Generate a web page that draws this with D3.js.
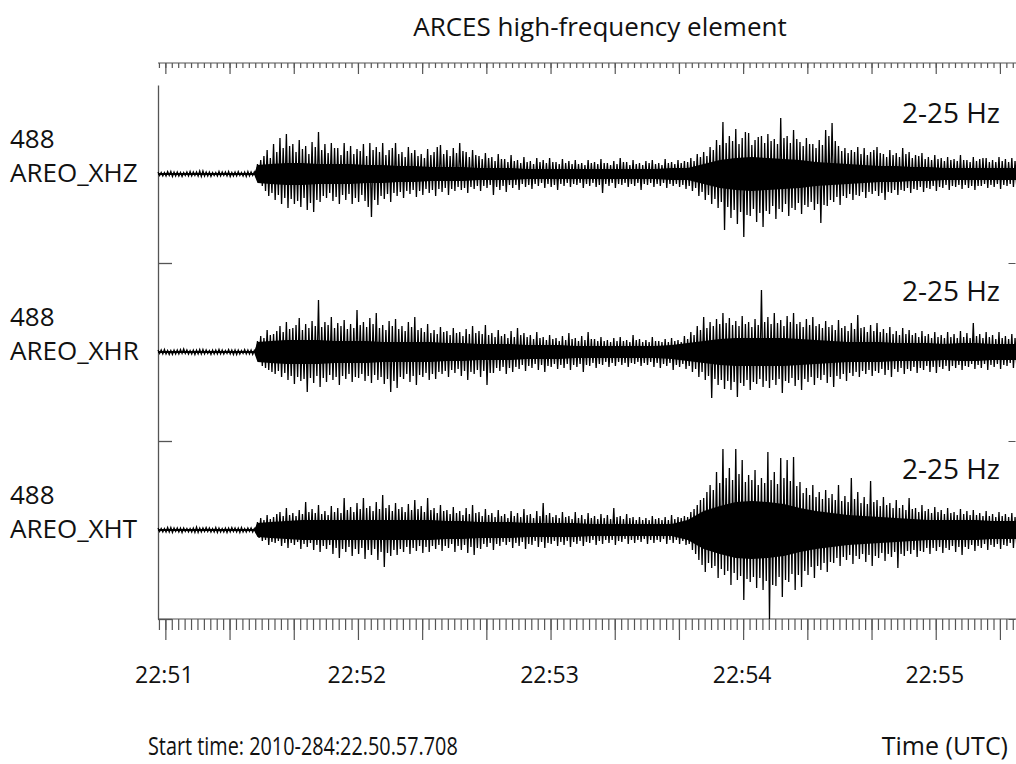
<!DOCTYPE html>
<html>
<head>
<meta charset="utf-8">
<script src="https://cdn.jsdelivr.net/npm/d3@7"></script>
<style>
  html, body { margin: 0; padding: 0; background: #fff; }
  svg { display: block; font-family: "Open Sans", "Noto Sans", sans-serif; }
</style>
</head>
<body>
<main></main>
<script>
// trace labels
const stations = ["488", "488", "488"];
const channels = ["AREO_XHZ", "AREO_XHR", "AREO_XHT"];
const filterLabels = ["2-25 Hz", "2-25 Hz", "2-25 Hz"];

// peak amplitudes (relative units), one per second from start time, up and down
const xhzUp = [
    2, 1.5, 1.5, 2.5, 2.5, 2, 2, 1.5, 1.5, 2,
    2.5, 2, 2, 3, 3, 2, 2, 1.5, 1.5, 2.5,
    2, 2, 2.5, 1.5, 2, 2.5, 1.5, 2, 2.5, 2,
    2, 10, 14, 18, 24, 16, 30, 22, 36, 26,
    40, 28, 30, 22, 34, 25, 28, 20, 32, 27,
    42, 24, 30, 21, 31, 26, 26, 19, 31, 23,
    28, 20, 25, 23, 30, 18, 31, 24, 27, 22,
    31, 19, 24, 26, 31, 20, 22, 17, 27, 21,
    24, 18, 20, 16, 25, 19, 22, 27, 29, 20,
    24, 18, 26, 21, 31, 23, 22, 17, 24, 19,
    18, 15, 21, 16, 17, 13, 20, 15, 15, 12,
    19, 13, 14, 11, 17, 12, 13, 10, 16, 12,
    14, 11, 16, 12, 12, 10, 15, 11, 13, 10,
    14, 10, 11, 9, 14, 11, 12, 10, 15, 11,
    11, 9, 13, 10, 16, 12, 12, 9, 14, 10,
    11, 9, 13, 11, 14, 10, 11, 9, 15, 11,
    12, 10, 14, 11, 13, 12, 16, 13, 20, 17,
    22, 18, 27, 24, 34, 29, 52, 31, 38, 33,
    45, 30, 36, 42, 41, 29, 34, 37, 38, 31,
    40, 33, 35, 30, 56, 36, 38, 31, 44, 35,
    32, 28, 36, 30, 30, 26, 34, 29, 44, 38,
    51, 33, 28, 23, 26, 21, 24, 22, 27, 20,
    26, 19, 22, 24, 27, 21, 20, 17, 24, 19,
    21, 17, 26, 20, 22, 16, 19, 18, 21, 15,
    17, 14, 19, 15, 16, 13, 17, 14, 15, 13,
    19, 14, 14, 12, 17, 13, 15, 16, 16, 12,
    14, 12, 17, 13, 15, 12, 16, 13, 14, 12];
const xhzDown = [
    1.5, 2, 2, 1.5, 2.5, 2, 2, 2.5, 1.5, 2,
    2, 1.5, 2, 2.5, 2, 2, 2.5, 1.5, 2, 2,
    1.5, 2, 2.5, 2, 2, 1.5, 2, 2.5, 2, 1.5,
    2, 9, 12, 17, 22, 19, 26, 21, 30, 24,
    34, 25, 30, 27, 33, 24, 36, 29, 38, 26,
    28, 22, 24, 19, 27, 23, 30, 21, 26, 20,
    30, 24, 28, 21, 27, 33, 43, 26, 31, 22,
    25, 20, 28, 19, 22, 18, 24, 17, 20, 16,
    23, 17, 21, 15, 19, 16, 22, 15, 18, 14,
    21, 15, 17, 13, 16, 14, 19, 13, 15, 12,
    17, 12, 14, 11, 21, 13, 16, 12, 18, 11,
    14, 11, 16, 10, 13, 11, 15, 10, 12, 9,
    14, 10, 13, 11, 16, 10, 12, 9, 13, 10,
    11, 9, 14, 10, 12, 9, 13, 11, 19, 10,
    12, 9, 14, 10, 11, 9, 13, 10, 12, 9,
    16, 10, 11, 9, 13, 10, 12, 9, 14, 10,
    12, 10, 13, 11, 15, 12, 17, 14, 22, 18,
    26, 21, 30, 25, 34, 28, 56, 33, 44, 36,
    50, 38, 63, 41, 42, 35, 48, 39, 53, 37,
    40, 32, 45, 35, 38, 30, 42, 34, 36, 29,
    40, 31, 33, 28, 36, 30, 49, 31, 32, 26,
    28, 23, 31, 22, 24, 20, 26, 21, 22, 18,
    24, 18, 20, 17, 22, 19, 26, 18, 19, 16,
    21, 16, 17, 14, 19, 15, 16, 13, 18, 14,
    15, 12, 17, 13, 14, 11, 16, 12, 13, 11,
    15, 11, 14, 12, 16, 12, 12, 10, 14, 11,
    13, 10, 15, 11, 12, 10, 13, 11, 12, 10];

const xhrUp = [
    2, 2, 2.5, 1.5, 1.5, 2, 2, 2.5, 3, 2,
    1.5, 2, 2, 2.5, 2.5, 2, 1.5, 2, 2, 2.5,
    2, 1.5, 2.5, 2, 2, 2, 1.5, 2.5, 2, 2,
    1.5, 11, 16, 14, 22, 17, 18, 21, 26, 20,
    30, 23, 24, 27, 34, 22, 28, 24, 31, 26,
    52, 25, 30, 27, 35, 24, 29, 26, 32, 23,
    28, 24, 42, 27, 30, 25, 34, 28, 39, 24,
    27, 22, 31, 26, 33, 23, 26, 21, 30, 25,
    35, 22, 24, 20, 28, 19, 22, 18, 25, 20,
    21, 17, 24, 19, 20, 16, 23, 18, 26, 19,
    21, 18, 27, 17, 19, 15, 22, 16, 18, 14,
    21, 15, 24, 17, 19, 15, 17, 13, 20, 14,
    15, 12, 17, 13, 14, 11, 16, 12, 19, 13,
    14, 11, 16, 12, 20, 13, 13, 11, 15, 11,
    12, 10, 14, 11, 15, 11, 12, 10, 17, 12,
    13, 10, 12, 10, 15, 11, 11, 10, 13, 10,
    14, 11, 12, 10, 16, 13, 20, 17, 26, 22,
    35, 24, 30, 26, 33, 28, 39, 29, 34, 27,
    31, 26, 36, 28, 30, 25, 33, 27, 62, 30,
    35, 28, 39, 29, 32, 26, 36, 30, 39, 28,
    30, 25, 33, 27, 35, 26, 28, 24, 31, 25,
    27, 22, 32, 24, 26, 21, 29, 23, 37, 24,
    25, 20, 27, 21, 29, 20, 23, 19, 25, 18,
    21, 17, 24, 18, 22, 17, 19, 15, 21, 16,
    18, 14, 20, 15, 17, 14, 20, 15, 18, 14,
    21, 15, 19, 14, 29, 16, 18, 14, 20, 15,
    17, 13, 20, 14, 16, 13, 18, 14, 17, 13];
const xhrDown = [
    1.5, 2, 2, 2.5, 2.5, 2, 2, 1.5, 1.5, 2,
    2, 2.5, 2, 2, 2, 1.5, 2.5, 2, 2, 2,
    2, 1.5, 2, 2.5, 2.5, 2, 1.5, 2, 2, 2.5,
    2, 10, 14, 16, 18, 20, 22, 19, 25, 21,
    28, 24, 32, 25, 29, 27, 40, 26, 31, 24,
    35, 26, 30, 23, 28, 25, 33, 24, 27, 22,
    30, 25, 26, 22, 29, 24, 31, 23, 28, 25,
    32, 27, 40, 29, 36, 25, 27, 22, 30, 24,
    33, 23, 25, 21, 28, 22, 27, 20, 22, 19,
    25, 18, 21, 17, 24, 19, 28, 20, 22, 18,
    25, 19, 33, 21, 21, 16, 19, 15, 22, 16,
    20, 15, 17, 13, 19, 14, 16, 12, 18, 13,
    20, 14, 15, 12, 17, 13, 16, 12, 18, 13,
    15, 12, 20, 13, 14, 11, 16, 12, 13, 10,
    15, 11, 14, 10, 13, 11, 15, 11, 12, 10,
    14, 11, 13, 10, 15, 11, 16, 12, 14, 11,
    18, 13, 15, 12, 17, 14, 20, 17, 25, 20,
    28, 24, 46, 27, 33, 28, 37, 29, 38, 30,
    45, 31, 34, 28, 38, 30, 32, 27, 35, 29,
    36, 28, 33, 27, 41, 29, 31, 26, 34, 28,
    38, 27, 30, 25, 33, 26, 28, 23, 31, 25,
    35, 24, 27, 22, 29, 21, 24, 20, 25, 19,
    22, 18, 24, 19, 21, 17, 23, 18, 25, 17,
    20, 16, 22, 17, 19, 15, 21, 16, 18, 14,
    20, 15, 21, 15, 17, 14, 19, 14, 16, 13,
    18, 14, 15, 12, 17, 13, 16, 12, 18, 13,
    15, 12, 17, 13, 14, 11, 16, 12, 15, 12];

const xhtUp = [
    2, 1.5, 1.5, 2.5, 2.5, 2, 2, 2, 2, 1.5,
    1.5, 2, 3, 2, 2, 2.5, 2, 1.5, 2.5, 2,
    1.5, 2, 2, 2.5, 2, 2, 2.5, 1.5, 2, 2,
    1.5, 8, 12, 10, 15, 11, 13, 16, 18, 14,
    22, 15, 17, 14, 20, 16, 28, 18, 21, 17,
    25, 16, 19, 15, 24, 18, 22, 17, 32, 20,
    23, 18, 27, 21, 32, 22, 24, 19, 28, 21,
    35, 22, 25, 19, 27, 21, 23, 18, 26, 20,
    30, 21, 24, 18, 32, 20, 22, 17, 25, 19,
    20, 16, 23, 17, 19, 15, 22, 16, 25, 17,
    18, 14, 21, 15, 17, 13, 20, 14, 16, 12,
    19, 14, 17, 13, 21, 15, 16, 12, 19, 14,
    27, 15, 17, 13, 15, 12, 18, 13, 14, 11,
    18, 12, 15, 11, 17, 12, 14, 11, 16, 12,
    15, 11, 22, 13, 14, 11, 16, 12, 13, 10,
    13, 10, 12, 10, 14, 11, 12, 10, 13, 10,
    15, 11, 13, 12, 14, 13, 18, 21, 25, 30,
    32, 38, 45, 40, 58, 47, 81, 52, 62, 50,
    81, 56, 70, 48, 55, 50, 60, 45, 52, 47,
    78, 50, 58, 46, 72, 52, 70, 49, 73, 44,
    48, 37, 42, 35, 45, 33, 38, 31, 40, 32,
    36, 30, 45, 29, 34, 28, 52, 31, 38, 27,
    33, 26, 49, 28, 30, 24, 33, 25, 27, 22,
    30, 22, 25, 20, 32, 21, 22, 18, 25, 19,
    21, 17, 23, 18, 20, 16, 22, 17, 18, 15,
    21, 16, 19, 15, 20, 15, 17, 14, 19, 14,
    16, 13, 18, 14, 16, 13, 17, 13, 15, 13];
const xhtDown = [
    1.5, 2, 2, 2, 2.5, 1.5, 2, 2.5, 1.5, 2,
    2, 2.5, 2.5, 2, 1.5, 1.5, 2, 2, 2.5, 2,
    2, 2.5, 2, 1.5, 2, 2.5, 2, 2, 1.5, 2,
    2, 8, 11, 10, 15, 12, 13, 11, 16, 13,
    18, 13, 15, 12, 19, 14, 17, 13, 20, 15,
    22, 16, 19, 15, 24, 18, 28, 19, 22, 17,
    26, 19, 24, 18, 29, 20, 25, 19, 30, 22,
    37, 23, 26, 20, 25, 19, 22, 17, 24, 18,
    21, 16, 23, 17, 22, 16, 19, 15, 21, 16,
    18, 14, 22, 16, 20, 15, 23, 17, 25, 18,
    19, 14, 17, 13, 20, 14, 16, 12, 15, 12,
    18, 13, 16, 12, 19, 14, 15, 11, 17, 12,
    18, 13, 14, 11, 16, 12, 15, 11, 17, 12,
    14, 11, 16, 12, 13, 10, 15, 11, 14, 10,
    13, 10, 15, 11, 12, 9, 14, 10, 13, 10,
    12, 9, 14, 10, 13, 10, 12, 9, 14, 10,
    13, 10, 14, 11, 15, 14, 20, 24, 30, 35,
    42, 33, 38, 36, 48, 39, 45, 41, 55, 43,
    50, 46, 70, 49, 52, 47, 58, 48, 60, 51,
    89, 55, 56, 47, 67, 50, 52, 44, 60, 45,
    57, 41, 45, 37, 48, 36, 40, 33, 42, 32,
    33, 28, 36, 27, 30, 25, 34, 26, 29, 24,
    32, 25, 36, 26, 28, 23, 31, 24, 27, 22,
    38, 24, 26, 21, 24, 20, 27, 21, 22, 18,
    24, 18, 21, 17, 23, 18, 20, 16, 22, 17,
    25, 17, 19, 15, 21, 16, 18, 14, 20, 15,
    17, 14, 19, 15, 16, 13, 18, 14, 16, 13];

// half-width of the solid middle of each trace, at these seconds from start
const coreTimes = [0, 30, 31, 35, 40, 45, 50, 55, 60, 65, 70, 75, 80, 85, 90, 95,
    100, 105, 110, 115, 120, 125, 130, 135, 140, 145, 150, 155, 160, 165, 170,
    175, 180, 185, 190, 195, 200, 205, 210, 215, 220, 225, 230, 235, 240, 245,
    250, 255, 260, 265, 270];
const xhzCore = [1, 1, 9, 10, 11, 11, 10, 10, 10, 9, 9, 8, 8, 7, 7, 7, 6, 6, 6, 5, 5,
    5, 5, 5, 5, 5, 5, 5, 6, 6, 10, 14, 16, 17, 16, 15, 14, 12, 11, 10, 9, 8, 8, 7, 7,
    6, 6, 6, 6, 6, 6];
const xhrCore = [1, 1, 10, 11, 12, 12, 12, 11, 11, 11, 10, 10, 10, 10, 9, 9, 8, 8, 8,
    7, 7, 7, 6, 6, 6, 6, 6, 6, 7, 9, 11, 13, 14, 14, 14, 14, 13, 12, 11, 10, 10, 10,
    9, 9, 9, 8, 9, 9, 8, 8, 8];
const xhtCore = [1, 1, 7, 8, 9, 10, 10, 10, 10, 10, 10, 10, 10, 10, 9, 9, 8, 8, 8, 7,
    7, 7, 7, 6, 6, 6, 6, 6, 6, 10, 19, 24, 28, 29, 28, 26, 22, 19, 17, 15, 14, 13,
    12, 11, 10, 10, 10, 10, 9, 9, 9];

const SAMPLE_SECONDS = 1;
const START = new Date(Date.UTC(2010, 9, 11, 22, 50, 57, 708)); // 2010-284

const showGraph = () => {
    const WIDTH = 1016;
    const HEIGHT = 764;
    const LEFT = 158;
    const TOP = 85;
    const BOTTOM = 619;
    const AXIS_TOP = 63;
    const ink = "#111";
    const axisColor = "#555";

    let svg = d3.select("main").append("svg")
        .attr("width", WIDTH)
        .attr("height", HEIGHT);

    const at = (s) => new Date(+START + s * 1000);

    let xScale = d3.scaleUtc()
        .domain([START, at(267.3)])
        .range([LEFT, WIDTH]);

    let panelScale = d3.scaleBand()
        .domain(channels)
        .range([TOP, BOTTOM]);

    let ampScale = d3.scaleLinear()
        .domain([-89, 89])
        .range([panelScale.bandwidth(), 0]);

    // panel boundaries (left and right frame ticks)
    let frameScale = d3.scaleLinear().domain([0, channels.length]).range([TOP, BOTTOM]);

    svg.append("g")
        .attr("transform", `translate(${LEFT}, 0)`)
        .call(d3.axisRight(frameScale).tickValues([1, 2, 3]).tickSize(14).tickSizeOuter(0).tickFormat(""))
        .call(g => g.selectAll("line, path").attr("stroke", axisColor).attr("stroke-width", 1.3));

    svg.append("g")
        .attr("transform", `translate(${WIDTH - 0.5}, 0)`)
        .call(d3.axisLeft(frameScale).tickValues([1, 2, 3]).tickSize(7).tickSizeOuter(0).tickFormat(""))
        .call(g => g.select(".domain").remove())
        .call(g => g.selectAll("line").attr("stroke", axisColor));

    // time axes: minor ticks every 2 s, major every 20 s
    const timeTicks = (y, minor, major) => {
        svg.append("g")
            .attr("transform", `translate(0, ${y})`)
            .call(d3.axisBottom(xScale).ticks(d3.utcSecond.every(2)).tickSize(minor).tickFormat(""))
            .call(g => g.select(".domain").attr("d", `M${LEFT},0H${WIDTH}`))
            .call(g => g.selectAll("line, path").attr("stroke", axisColor).attr("stroke-width", 1.2));
        svg.append("g")
            .attr("transform", `translate(0, ${y})`)
            .call(d3.axisBottom(xScale).ticks(d3.utcSecond.every(20)).tickSize(major).tickFormat(""))
            .call(g => g.select(".domain").remove())
            .call(g => g.selectAll("line").attr("stroke", axisColor).attr("stroke-width", 1.2));
    };
    timeTicks(AXIS_TOP, 5, 11);
    timeTicks(BOTTOM, 11, 21);

    svg.append("g")
        .selectAll("text")
        .data(xScale.ticks(d3.utcMinute.every(1)))
        .join("text")
        .attr("x", d => xScale(d) - 1)
        .attr("y", 683)
        .attr("text-anchor", "middle")
        .attr("font-size", 23)
        .attr("fill", ink)
        .text(d3.utcFormat("%H:%M"));

    // traces
    const traces = [
        { up: xhzUp, down: xhzDown, core: xhzCore },
        { up: xhrUp, down: xhrDown, core: xhrCore },
        { up: xhtUp, down: xhtDown, core: xhtCore }
    ];

    let line = d3.line()
        .x(d => xScale(at(d.t)))
        .y(d => ampScale(d.v));

    let area = d3.area()
        .x((d, i) => xScale(at(coreTimes[i])))
        .y0(d => ampScale(-d))
        .y1(d => ampScale(d));

    traces.forEach((tr, k) => {
        let g = svg.append("g")
            .attr("transform", `translate(0, ${panelScale(channels[k])})`);

        g.append("path")
            .attr("d", area(tr.core))
            .attr("fill", "#000");

        let pts = tr.up.flatMap((u, i) => [
            { t: i * SAMPLE_SECONDS, v: u },
            { t: i * SAMPLE_SECONDS + SAMPLE_SECONDS / 2, v: -tr.down[i] }
        ]);
        g.append("path")
            .attr("d", line(pts))
            .attr("fill", "none")
            .attr("stroke", "#000")
            .attr("stroke-width", 1.3);

        g.append("text")
            .attr("x", 10)
            .attr("y", ampScale(0) - 26)
            .attr("font-size", 26)
            .attr("fill", ink)
            .text(stations[k]);

        g.append("text")
            .attr("x", 10)
            .attr("y", ampScale(0) + 8)
            .attr("font-size", 26)
            .attr("fill", ink)
            .text(channels[k]);

        g.append("text")
            .attr("x", 1000)
            .attr("y", ampScale(0) - 51)
            .attr("text-anchor", "end")
            .attr("font-size", 28)
            .attr("fill", ink)
            .text(filterLabels[k]);
    });

    svg.append("text")
        .attr("x", 600)
        .attr("y", 36)
        .attr("text-anchor", "middle")
        .attr("font-size", 26)
        .attr("fill", ink)
        .text("ARCES high-frequency element");

    // start time is set in a narrow face in the original, squeeze it to the same width
    let startText = svg.append("text")
        .attr("font-size", 25)
        .attr("fill", ink)
        .text("Start time: 2010-284:22.50.57.708");
    let natural = startText.node().getComputedTextLength();
    startText.attr("transform", `translate(148, 755) scale(${310 / natural}, 1)`);

    svg.append("text")
        .attr("x", 1008)
        .attr("y", 755)
        .attr("text-anchor", "end")
        .attr("font-size", 25)
        .attr("fill", ink)
        .text("Time (UTC)");
};

document.addEventListener('DOMContentLoaded', () => {
    showGraph();
});
</script>
</body>
</html>
